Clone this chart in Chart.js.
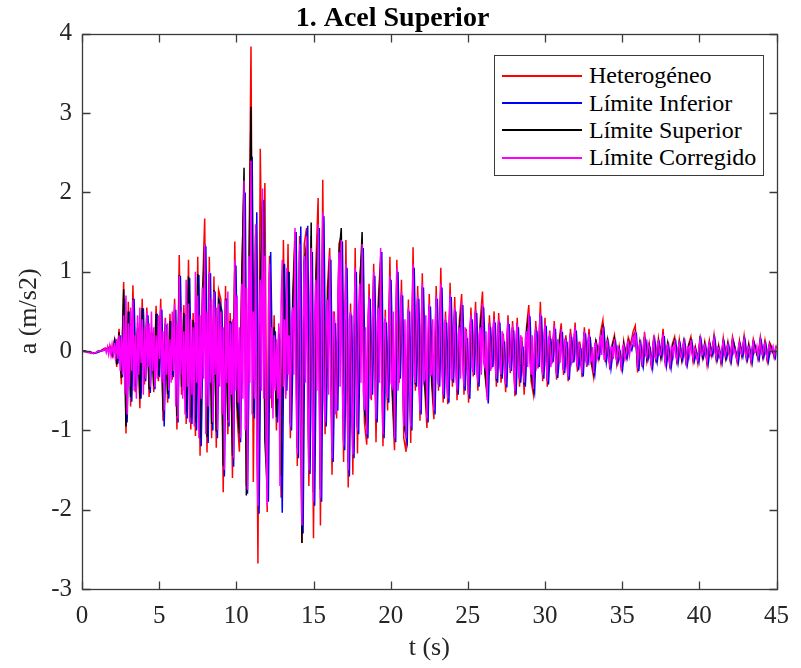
<!DOCTYPE html>
<html>
<head>
<meta charset="utf-8">
<script src="https://cdn.jsdelivr.net/npm/chart.js@4/dist/chart.umd.min.js"></script>
<style>
  body { margin: 0; background: #fff; }
  #wrap { position: relative; width: 801px; height: 668px; }
  #legend {
    position: absolute; left: 494px; top: 55px; width: 270px; height: 121px;
    box-sizing: border-box; border: 1.3px solid #3a3a3a; background: #fff;
    padding-top: 6px; font: 24px 'Liberation Serif', 'Times New Roman', serif; color: #000;
  }
  #legend .row { height: 27.4px; display: flex; align-items: center; white-space: nowrap; }
  #legend .sw { display: block; width: 80px; height: 2px; margin: 0 7px; }
</style>
</head>
<body>
<div id="wrap">
  <canvas id="c" width="801" height="668"></canvas>
  <div id="legend"></div>
</div>
<script>
// sample steps (s): the three bounds at 0.15 s, the corrected record at 0.075 s
const dt = 0.15
const dtFine = 0.075

// one row = 20 samples = 3 s
const heterogeneo = [
  0.00, 0.00, -0.01, -0.02, -0.02, -0.03, -0.02, -0.01, 0.00, 0.02, 0.04, 0.01, 0.07, -0.06, 0.13, -0.20, 0.28, -0.42, 0.87, -1.04,
  0.62, -0.70, 0.83, -0.52, 0.36, -0.72, 0.66, -0.42, 0.55, -0.58, 0.30, -0.52, 0.57, -0.38, 0.66, -0.88, 0.42, -0.65, 0.47, -0.36,
  0.66, -0.99, 1.21, -0.55, 0.58, -0.92, 1.15, -0.99, 0.48, -1.07, 1.19, -1.32, 0.70, 1.67, -1.28, 1.19, -1.10, 0.94, -1.22, 0.77,
  0.65, -1.78, 0.82, -1.05, 0.48, -1.60, 1.38, -0.82, -1.27, 1.00, 2.10, -1.70, 0.75, 3.84, -1.65, 1.45, -2.68, 2.55, 0.40, 2.12,
  -2.03, 1.20, -0.72, 0.45, -1.00, 0.30, -1.85, 1.40, -0.55, 1.35, -1.10, 0.70, 1.50, -1.45, 1.45, -2.42, 1.35, 1.55, -1.70, 1.45,
  -2.36, 1.05, 1.93, -2.20, 2.16, -1.05, 0.80, 1.30, -1.56, 0.50, -0.85, 1.35, 1.45, -1.40, 1.40, -1.72, 0.60, -1.56, 1.30, -1.29,
  0.95, 1.30, -0.90, -1.18, 0.85, -0.62, 1.10, -1.15, 0.65, 1.20, -1.20, 0.52, -0.75, 1.19, -0.55, -1.25, 1.15, -0.40, 0.90, -1.10,
  -1.27, 0.65, -1.16, 1.31, -0.50, 0.82, -0.88, 0.98, -0.45, -0.97, 0.72, -0.40, -0.86, 0.82, -0.50, 1.05, -0.65, 0.50, -0.67, 0.86,
  -0.45, 0.68, -0.62, 0.38, 0.72, -0.55, 0.28, -0.65, 0.55, -0.32, 0.62, -0.50, 0.38, 0.75, -0.28, -0.58, 0.45, -0.22, 0.50, -0.45,
  0.48, -0.40, 0.22, -0.52, 0.45, -0.28, 0.38, -0.57, 0.42, -0.45, 0.18, -0.55, 0.30, 0.58, -0.38, -0.55, 0.38, -0.22, 0.62, -0.38,
  0.42, -0.45, 0.26, -0.16, 0.38, -0.36, 0.10, 0.35, -0.30, 0.20, -0.38, 0.28, -0.15, 0.36, -0.26, 0.12, -0.33, 0.30, -0.20, 0.28,
  -0.16, -0.33, 0.15, -0.08, 0.24, 0.39, -0.14, 0.17, -0.23, 0.08, 0.20, -0.16, 0.05, -0.25, 0.12, -0.08, 0.17, 0.08, 0.24, 0.32,
  -0.27, 0.14, -0.20, 0.24, -0.12, 0.09, -0.22, 0.20, -0.14, 0.16, -0.08, 0.28, -0.19, 0.12, -0.22, 0.09, 0.18, -0.16, 0.14, -0.11,
  0.16, -0.18, 0.08, 0.18, -0.13, 0.05, -0.15, 0.19, -0.08, 0.11, -0.17, 0.13, -0.05, 0.20, -0.11, 0.07, -0.15, 0.16, -0.09, 0.11,
  -0.12, 0.18, 0.05, -0.14, 0.13, -0.06, 0.19, -0.10, 0.09, -0.14, 0.15, 0.03, -0.10, 0.17, -0.07, 0.13, -0.12, 0.11, 0.05, -0.08, 0.08,
]

const limiteInferior = [
  0.00, 0.00, -0.01, -0.01, -0.02, -0.02, -0.02, -0.01, 0.01, 0.01, 0.03, 0.02, 0.04, -0.05, 0.11, -0.16, 0.20, -0.33, 0.66, -0.90,
  0.50, -0.64, 0.66, -0.48, 0.28, -0.60, 0.54, -0.38, 0.45, -0.53, 0.22, -0.48, 0.47, -0.33, 0.52, -0.95, 0.33, -0.60, 0.38, -0.33,
  0.52, -0.90, 0.95, -0.50, 0.46, -0.85, 0.92, -0.92, 0.36, -1.00, 0.96, -1.20, 0.55, 1.32, -1.16, 0.98, -1.00, 0.75, -1.10, 0.62,
  0.50, -1.58, 0.66, -0.95, 0.37, -1.46, 1.08, -0.75, -1.15, 0.80, 2.00, -1.80, 0.55, 2.45, -0.85, 1.75, -2.05, 0.85, 1.90, -1.28,
  -1.90, 1.25, -0.65, 0.25, -0.90, 0.15, -2.04, 1.10, -0.50, 1.00, -1.00, 0.50, 1.50, -1.35, 1.57, -2.30, 1.15, 1.58, -1.55, 1.25,
  -1.95, 0.85, 1.55, -1.90, 1.70, -0.95, 0.60, 1.15, -1.40, 0.35, -0.75, 1.20, 1.38, -1.25, 1.05, -1.58, 0.45, -1.35, 1.00, -1.05,
  0.80, 1.30, -0.80, -1.10, 0.66, -0.55, 0.95, -0.90, 0.50, 1.25, -1.10, 0.36, -0.65, 0.90, -0.50, -1.15, 1.00, -0.35, 0.70, -1.00,
  -1.15, 0.50, -1.00, 1.05, -0.45, 0.66, -0.80, 0.80, -0.40, -0.90, 0.56, -0.35, -0.80, 0.66, -0.45, 0.80, -0.60, 0.36, -0.65, 0.68,
  -0.40, 0.50, -0.55, 0.26, 0.58, -0.50, 0.16, -0.60, 0.40, -0.30, 0.48, -0.45, 0.26, 0.55, -0.25, -0.66, 0.30, -0.20, 0.36, -0.40,
  0.36, -0.35, 0.12, -0.46, 0.34, -0.25, 0.26, -0.55, 0.30, -0.40, 0.06, -0.45, 0.20, 0.44, -0.35, -0.52, 0.26, -0.20, 0.44, -0.35,
  0.32, -0.42, 0.16, -0.14, 0.28, -0.34, 0.02, 0.24, -0.28, 0.12, -0.36, 0.18, -0.14, 0.26, -0.24, 0.04, -0.32, 0.22, -0.18, 0.18,
  -0.15, -0.30, 0.06, -0.08, 0.14, 0.26, -0.14, 0.08, -0.22, 0.02, 0.11, -0.15, -0.02, -0.23, 0.04, -0.09, 0.08, 0.01, 0.14, 0.21,
  -0.25, 0.07, -0.18, 0.15, -0.11, 0.02, -0.21, 0.12, -0.13, 0.09, -0.08, 0.19, -0.18, 0.05, -0.21, 0.02, 0.11, -0.15, 0.07, -0.11,
  0.09, -0.17, 0.02, 0.11, -0.13, -0.01, -0.14, 0.12, -0.08, 0.05, -0.16, 0.07, -0.05, 0.13, -0.11, 0.01, -0.15, 0.09, -0.09, 0.05,
  -0.13, 0.11, -0.01, -0.15, 0.07, -0.07, 0.12, -0.11, 0.03, -0.15, 0.09, -0.03, -0.11, 0.11, -0.08, 0.07, -0.13, 0.05, -0.01, -0.09, 0.03,
]

const limiteSuperior = [
  0.00, 0.00, -0.01, -0.01, -0.02, -0.03, -0.02, 0.00, 0.00, 0.01, 0.03, 0.03, 0.05, -0.05, 0.12, -0.17, 0.24, -0.34, 0.78, -0.95,
  0.50, -0.58, 0.66, -0.44, 0.29, -0.60, 0.54, -0.35, 0.45, -0.48, 0.24, -0.44, 0.47, -0.31, 0.52, -0.75, 0.34, -0.54, 0.38, -0.30,
  0.52, -0.82, 0.96, -0.45, 0.48, -0.77, 0.94, -0.84, 0.39, -0.90, 0.97, -1.10, 0.57, 1.35, -1.08, 0.97, -0.92, 0.77, -1.01, 0.63,
  0.52, -1.45, 0.66, -0.87, 0.38, -1.32, 1.09, -0.68, -1.04, 0.83, 2.31, -1.82, 0.59, 3.08, -0.78, 1.48, -1.83, 0.87, 1.91, -1.13,
  -1.74, 1.00, -0.59, 0.30, -0.83, 0.22, -1.57, 1.09, -0.45, 1.00, -0.91, 0.54, 1.39, -1.22, 1.26, -2.42, 1.13, 1.32, -1.41, 1.62,
  -1.78, 0.83, 1.48, -1.74, 1.61, -0.85, 0.61, 1.16, -1.26, 0.39, -0.68, 1.22, 1.55, -1.13, 1.04, -1.41, 0.48, -1.22, 0.97, -0.96,
  0.78, 1.50, -0.74, -0.97, 0.68, -0.50, 0.91, -0.83, 0.52, 1.11, -1.00, 0.40, -0.61, 0.91, -0.45, -1.09, 0.97, -0.33, 0.71, -0.91,
  -1.04, 0.52, -0.91, 1.03, -0.42, 0.66, -0.71, 0.80, -0.37, -0.80, 0.57, -0.33, -0.71, 0.66, -0.42, 0.80, -0.54, 0.39, -0.57, 0.70,
  -0.37, 0.52, -0.50, 0.30, 0.57, -0.45, 0.21, -0.54, 0.44, -0.26, 0.50, -0.40, 0.30, 0.57, -0.23, -0.52, 0.35, -0.17, 0.39, -0.37,
  0.38, -0.31, 0.16, -0.42, 0.37, -0.21, 0.30, -0.48, 0.35, -0.35, 0.12, -0.42, 0.24, 0.47, -0.30, -0.47, 0.30, -0.16, 0.47, -0.30,
  0.33, -0.37, 0.19, -0.11, 0.30, -0.29, 0.07, 0.28, -0.24, 0.16, -0.30, 0.22, -0.10, 0.29, -0.20, 0.09, -0.27, 0.24, -0.15, 0.22,
  -0.12, -0.27, 0.11, -0.06, 0.18, 0.30, -0.10, 0.13, -0.17, 0.06, 0.16, -0.12, 0.03, -0.19, 0.09, -0.06, 0.13, 0.06, 0.18, 0.24,
  -0.21, 0.10, -0.15, 0.18, -0.09, 0.06, -0.17, 0.16, -0.10, 0.12, -0.06, 0.22, -0.15, 0.09, -0.17, 0.06, 0.14, -0.12, 0.10, -0.09,
  0.12, -0.14, 0.06, 0.14, -0.10, 0.03, -0.11, 0.15, -0.06, 0.09, -0.13, 0.10, -0.03, 0.16, -0.09, 0.05, -0.12, 0.12, -0.07, 0.09,
  -0.10, 0.14, 0.03, -0.11, 0.10, -0.04, 0.15, -0.08, 0.07, -0.11, 0.12, 0.02, -0.08, 0.14, -0.05, 0.10, -0.10, 0.09, 0.03, -0.06, 0.06,
]

// one row = 20 samples = 1.5 s
const limiteCorregido = [
  0.00, 0.00, -0.01, 0.00, -0.01, -0.02, -0.01, -0.02, -0.03, -0.02, -0.03, -0.02, -0.02, -0.01, -0.01, 0.00, 0.00, 0.01, 0.00, 0.02,
  0.03, -0.02, 0.05, -0.04, 0.06, -0.05, 0.08, -0.03, 0.10, -0.12, 0.15, -0.10, 0.20, -0.25, 0.18, -0.30, 0.45, -0.55, 0.70, -0.80,
  0.35, -0.45, 0.55, -0.25, 0.65, -0.50, 0.20, -0.60, 0.45, -0.30, 0.55, -0.15, 0.40, -0.55, 0.30, -0.35, 0.50, -0.20, 0.35, -0.45,
  0.50, -0.25, 0.30, -0.45, 0.20, -0.35, 0.45, -0.10, 0.55, -0.40, 0.25, -0.75, 0.40, -0.30, 0.35, -0.50, 0.15, -0.40, 0.50, -0.25,
  0.60, -0.70, 0.35, -0.85, 0.95, -0.30, 0.50, -0.60, 0.25, -0.80, 0.90, -0.45, 0.60, -0.90, 0.40, -0.55, 0.30, -0.95, 1.00, -0.40,
  0.70, -1.10, 0.45, -0.60, 0.80, -0.35, 1.35, -1.05, 0.50, -0.70, 1.00, -0.40, 0.65, -0.90, 0.75, -0.30, 0.55, -1.00, 0.60, -0.45,
  0.50, -0.80, 0.30, -1.50, 0.65, -0.40, 0.75, -0.90, 0.35, -0.55, 0.40, -1.35, 1.15, -0.50, 0.70, -0.65, 0.30, -1.10, 0.85, -0.60,
  2.15, -1.00, 0.80, -1.75, 1.20, -0.40, 2.40, -0.80, 0.50, -0.60, 1.60, -1.20, -1.95, 0.30, 0.90, -0.50, 2.05, -0.60, 1.20, -1.20,
  -1.95, 0.50, 1.10, -0.60, 0.30, -0.85, 0.20, -0.50, 0.15, -0.60, 0.35, -1.70, 0.60, 1.15, -0.45, 0.40, -0.60, 1.05, -0.30, 0.20,
  -0.95, 0.40, 0.55, -0.30, 1.55, -0.60, -1.30, 0.50, 1.35, -0.80, -2.20, 0.35, 1.20, -0.40, 1.45, -0.70, -1.50, 0.45, 1.30, -0.60,
  -1.90, 0.45, 0.90, -0.50, 1.60, -0.70, -1.85, 0.40, 1.75, -0.60, -0.90, 0.30, 0.65, -0.55, 1.20, -0.40, -1.35, 0.50, 0.40, -0.80,
  -0.70, 0.60, 1.25, -0.45, 1.40, -0.50, -1.20, 0.35, 1.10, -0.60, -1.50, 0.40, 0.50, -0.65, -1.30, 0.30, 1.05, -0.45, -1.00, 0.50,
  0.85, -0.40, 1.35, -0.50, -0.75, 0.30, -1.05, 0.45, 0.70, -0.60, -0.50, 0.40, 1.00, -0.35, -0.85, 0.30, 0.55, -0.40, 1.30, -0.50,
  -1.05, 0.35, 0.40, -0.45, -0.60, 0.25, 0.95, -0.40, -0.45, 0.50, -1.10, 0.30, 1.05, -0.50, -0.30, 0.45, 0.75, -0.35, -0.95, 0.40,
  -1.10, 0.30, 0.55, -0.40, -0.95, 0.35, 1.10, -0.30, -0.40, 0.50, 0.70, -0.45, -0.75, 0.30, 0.85, -0.40, -0.35, 0.45, -0.85, 0.30,
  0.60, -0.30, -0.30, 0.40, -0.75, 0.25, 0.70, -0.35, -0.40, 0.30, 0.85, -0.30, -0.55, 0.35, 0.40, -0.40, -0.60, 0.30, 0.72, -0.35,
  -0.35, 0.25, 0.55, -0.30, -0.50, 0.20, 0.30, -0.35, 0.62, -0.20, -0.45, 0.30, 0.20, -0.25, -0.55, 0.30, 0.45, -0.20, -0.25, 0.35,
  0.52, -0.25, -0.40, 0.20, 0.30, -0.30, 0.60, -0.15, -0.20, 0.25, -0.62, 0.20, 0.35, -0.25, -0.15, 0.30, 0.40, -0.20, -0.35, 0.20,
  0.40, -0.20, -0.30, 0.25, 0.15, -0.25, -0.42, 0.20, 0.38, -0.15, -0.20, 0.25, 0.30, -0.20, -0.50, 0.20, 0.35, -0.25, -0.35, 0.20,
  0.10, -0.20, -0.40, 0.15, 0.25, -0.20, 0.48, -0.15, -0.30, 0.20, -0.48, 0.15, 0.30, -0.20, -0.15, 0.25, 0.48, -0.20, -0.30, 0.15,
  0.35, -0.15, -0.38, 0.15, 0.20, -0.20, -0.10, 0.15, 0.32, -0.10, -0.30, 0.15, 0.05, -0.15, 0.28, -0.10, -0.25, 0.15, 0.15, -0.20,
  -0.32, 0.10, 0.22, -0.15, -0.10, 0.15, 0.30, -0.10, -0.20, 0.10, 0.08, -0.15, -0.28, 0.10, 0.25, -0.10, -0.15, 0.10, 0.22, -0.15,
  -0.12, 0.05, -0.28, 0.10, 0.10, -0.10, -0.05, 0.10, 0.18, -0.05, 0.30, -0.10, -0.10, 0.08, 0.12, -0.10, -0.18, 0.05, 0.05, -0.10,
  0.15, -0.05, -0.12, 0.05, 0.02, -0.10, -0.20, 0.05, 0.08, -0.10, -0.05, 0.10, 0.12, -0.05, 0.05, 0.12, 0.18, 0.05, 0.25, 0.10,
  -0.22, 0.05, 0.10, -0.08, -0.15, 0.08, 0.18, -0.05, -0.08, 0.10, 0.05, -0.08, -0.18, 0.05, 0.15, -0.08, -0.10, 0.08, 0.12, -0.05,
  -0.05, 0.10, 0.22, -0.05, -0.15, 0.05, 0.08, -0.10, -0.18, 0.05, 0.05, -0.05, 0.14, -0.05, -0.12, 0.05, 0.10, -0.05, -0.08, 0.05,
  0.12, -0.05, -0.15, 0.05, 0.05, -0.05, 0.14, -0.03, -0.10, 0.05, 0.02, -0.08, -0.12, 0.05, 0.15, -0.05, -0.05, 0.05, 0.08, -0.05,
  -0.14, 0.05, 0.10, -0.05, -0.02, 0.08, 0.16, -0.03, -0.08, 0.05, 0.04, -0.05, -0.12, 0.05, 0.12, -0.03, -0.06, 0.05, 0.08, -0.04,
  -0.10, 0.05, 0.14, -0.02, 0.02, -0.08, -0.12, 0.05, 0.10, -0.02, -0.04, 0.08, 0.15, -0.03, -0.08, 0.05, 0.06, -0.05, -0.12, 0.05,
  0.12, -0.02, 0.00, 0.06, -0.08, 0.02, 0.14, -0.02, -0.05, 0.06, 0.10, -0.03, -0.10, 0.04, 0.08, -0.02, 0.02, 0.06, -0.06, 0.03,
  0.06,
]

const xTicks = [0, 5, 10, 15, 20, 25, 30, 35, 40, 45]
const yTicks = [-3, -2, -1, 0, 1, 2, 3, 4]

// start: time of the first sample (s), step: sample step (s)
const series = [
  { label: 'Heterogéneo',      data: heterogeneo,     color: '#ff0000', order: 4, start: 0,     step: dt },
  { label: 'Límite Inferior',  data: limiteInferior,  color: '#0000ff', order: 3, start: 0.075, step: dt },
  { label: 'Límite Superior',  data: limiteSuperior,  color: '#000000', order: 2, start: 0,     step: dt },
  { label: 'Límite Corregido', data: limiteCorregido, color: '#ff00ff', order: 1, start: 0,     step: dtFine },
]

series.forEach(s => {
  const n = Math.round(45 / s.step) + 1
  if (s.data.length !== n) throw new Error(s.label + ' has ' + s.data.length + ' samples, expected ' + n)
})

const FONT = "'Liberation Serif', 'Times New Roman', serif"
const AXIS = '#3a3a3a'
const TXT = '#262626'

// MATLAB-like box with inward ticks on all four sides
const boxAxes = {
  id: 'boxAxes',
  afterDatasetsDraw(chart) {
    const { ctx, chartArea: a, scales: { x, y } } = chart
    const L = Math.round(a.left) + 0.5, R = Math.round(a.right) + 0.5
    const T = Math.round(a.top) + 0.5, B = Math.round(a.bottom) + 0.5
    ctx.save()
    ctx.strokeStyle = AXIS
    ctx.lineWidth = 1.3
    ctx.strokeRect(L, T, R - L, B - T)
    ctx.beginPath()
    x.ticks.forEach(tk => {
      const px = Math.round(x.getPixelForValue(tk.value)) + 0.5
      ctx.moveTo(px, B); ctx.lineTo(px, B - 8)
      ctx.moveTo(px, T); ctx.lineTo(px, T + 8)
    })
    y.ticks.forEach(tk => {
      const py = Math.round(y.getPixelForValue(tk.value)) + 0.5
      ctx.moveTo(L, py); ctx.lineTo(L + 8, py)
      ctx.moveTo(R, py); ctx.lineTo(R - 8, py)
    })
    ctx.stroke()
    ctx.restore()
  }
}

new Chart(document.getElementById('c'), {
  type: 'line',
  data: {
    datasets: series.map(s => ({
      label: s.label,
      data: s.data.map((v, i) => ({ x: Math.round((s.start + i * s.step) * 1000) / 1000, y: v })),
      borderColor: s.color,
      backgroundColor: s.color,
      borderWidth: 1.5,
      pointRadius: 0,
      tension: 0,
      order: s.order,
    })),
  },
  options: {
    responsive: false,
    animation: false,
    devicePixelRatio: 1,
    layout: { padding: { left: 0, right: 16, top: 0, bottom: 0 } },
    plugins: {
      legend: { display: false },
      tooltip: { enabled: false },
      title: {
        display: true,
        text: '1. Acel Superior',
        color: '#000',
        font: { family: FONT, size: 28, weight: 'bold', lineHeight: 1.1 },
        padding: { top: 3, bottom: 0 },
      },
    },
    scales: {
      x: {
        type: 'linear', min: 0, max: 45,
        afterBuildTicks: sc => { sc.ticks = xTicks.map(v => ({ value: v })) },
        afterFit: sc => { sc.height = 79 },
        grid: { display: false, drawTicks: false },
        border: { display: false },
        ticks: { color: TXT, font: { family: FONT, size: 25 }, padding: 12, maxRotation: 0 },
        title: { display: true, text: 't (s)', color: TXT, font: { family: FONT, size: 26 }, padding: { top: 0, bottom: 4 } },
      },
      y: {
        type: 'linear', min: -3, max: 4,
        afterBuildTicks: sc => { sc.ticks = yTicks.map(v => ({ value: v })) },
        afterFit: sc => { sc.width = 82 },
        grid: { display: false, drawTicks: false },
        border: { display: false },
        ticks: { color: TXT, font: { family: FONT, size: 25 }, padding: 10 },
        title: { display: true, text: 'a (m/s2)', color: TXT, font: { family: FONT, size: 26 }, padding: { top: 14, bottom: 0 } },
      },
    },
  },
  plugins: [boxAxes],
})

// legend box in the upper right of the axes
const legend = document.getElementById('legend')
series.forEach(s => {
  const row = document.createElement('div')
  row.className = 'row'
  const sw = document.createElement('span')
  sw.className = 'sw'
  sw.style.backgroundColor = s.color
  const txt = document.createElement('span')
  txt.textContent = s.label
  row.append(sw, txt)
  legend.appendChild(row)
})
</script>
</body>
</html>
